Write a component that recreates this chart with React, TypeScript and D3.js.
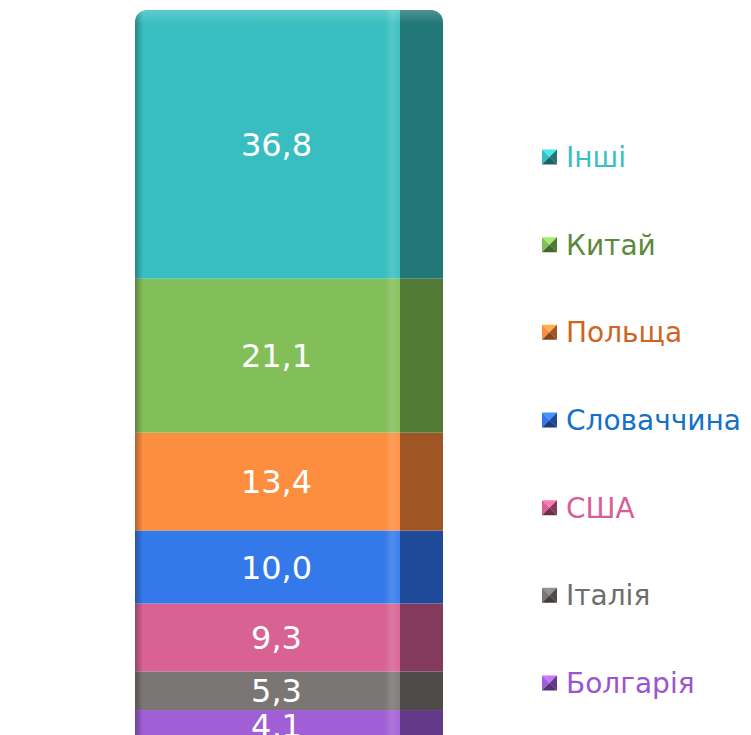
import React from "react";
import * as d3 from "d3";

const WIDTH = 751;
const HEIGHT = 735;

// stacked from the bottom up
const categories = ["Болгарія", "Італія", "США", "Словаччина", "Польща", "Китай", "Інші"];
const shares = [4.1, 5.3, 9.3, 10.0, 13.4, 21.1, 36.8];
const frontColors = ["#a05fd4", "#7a7674", "#d76293", "#3479e9", "#fd8d3f", "#83bf58", "#38bec0"];
const sideColors = ["#643a88", "#4d4a48", "#833a5c", "#1f4a9a", "#a05525", "#527a35", "#217876"];
const textColors = ["#9b55d0", "#6e6e6e", "#d95e95", "#1470c8", "#d06420", "#5b8a3a", "#3bbfc4"];

const DEPTH = 43;

export default function App() {
  const y = d3.scaleLinear().domain([0, 100]).range([740, 10]);
  const x = d3.scaleBand().domain(["total"]).range([135, 400]).padding(0);
  const bw = x.bandwidth();
  const x0 = x("total") ?? 135;

  const stacked = d3.stack<number[]>().keys(categories.map((_, i) => String(i))).value((d, k) => d[+k])([shares]);

  // legend is listed top-down (reverse of stack)
  const legendOrder = d3.range(categories.length).reverse();
  const ly = d3.scalePoint<number>().domain(legendOrder).range([157, 683]);

  return (
    <svg width={WIDTH} height={HEIGHT} style={{ position: "absolute", left: 0, top: 0 }} fontFamily="'DejaVu Sans', Verdana, sans-serif">
      <defs>
        <clipPath id="barClip">
          <rect x={x0} y={y(100)} width={bw + DEPTH} height={760} rx={12} ry={12} />
        </clipPath>
        <linearGradient id="frontShade" x1="0" x2="1" y1="0" y2="0">
          <stop offset="0" stopColor="#000" stopOpacity={0.3} />
          <stop offset="0.03" stopColor="#000" stopOpacity={0} />
          <stop offset="0.94" stopColor="#fff" stopOpacity={0} />
          <stop offset="0.97" stopColor="#fff" stopOpacity={0.14} />
          <stop offset="1" stopColor="#fff" stopOpacity={0.05} />
        </linearGradient>
        <linearGradient id="topShade" x1="0" x2="0" y1="0" y2="1">
          <stop offset="0" stopColor="#fff" stopOpacity={0.2} />
          <stop offset="1" stopColor="#fff" stopOpacity={0} />
        </linearGradient>
      </defs>

      <g clipPath="url(#barClip)">
        {stacked.map((layer, i) => {
          const [lo, hi] = layer[0];
          return (
            <g key={categories[i]}>
              <rect x={x0} y={y(hi)} width={bw} height={y(lo) - y(hi)} fill={frontColors[i]} />
              <rect x={x0 + bw} y={y(hi)} width={DEPTH} height={y(lo) - y(hi)} fill={sideColors[i]} />
            </g>
          );
        })}
        <rect x={x0} y={y(100)} width={bw} height={y(0) - y(100)} fill="url(#frontShade)" />
        <rect x={x0} y={y(100)} width={bw + DEPTH} height={14} fill="url(#topShade)" />
      </g>

      {stacked.map((layer, i) => {
        const [lo, hi] = layer[0];
        return (
          <text
            key={`lbl-${categories[i]}`}
            x={x0 + bw / 2 + 9}
            y={(y(lo) + y(hi)) / 2}
            dy="0.36em"
            textAnchor="middle"
            fontSize={32}
            fill="#fff"
          >
            {shares[i].toFixed(1).replace(".", ",")}
          </text>
        );
      })}

      {legendOrder.map((i) => {
        const cy = ly(i) ?? 0;
        const s = 15;
        const mx = 542;
        const my = cy - s / 2;
        const c = { x: mx + s / 2, y: my + s / 2 };
        const light = d3.color(frontColors[i])?.brighter(0.6).formatHex();
        const dark = sideColors[i];
        const darker = d3.color(sideColors[i])?.darker(0.5).formatHex();
        return (
          <g key={`leg-${categories[i]}`}>
            <polygon points={`${mx},${my} ${mx + s},${my} ${c.x},${c.y}`} fill={light} />
            <polygon points={`${mx},${my} ${c.x},${c.y} ${mx},${my + s}`} fill={frontColors[i]} />
            <polygon points={`${mx + s},${my} ${mx + s},${my + s} ${c.x},${c.y}`} fill={dark} />
            <polygon points={`${mx},${my + s} ${c.x},${c.y} ${mx + s},${my + s}`} fill={darker} />
            <text x={566} y={cy} dy="0.36em" fontSize={28} fill={textColors[i]}>
              {categories[i]}
            </text>
          </g>
        );
      })}
    </svg>
  );
}
